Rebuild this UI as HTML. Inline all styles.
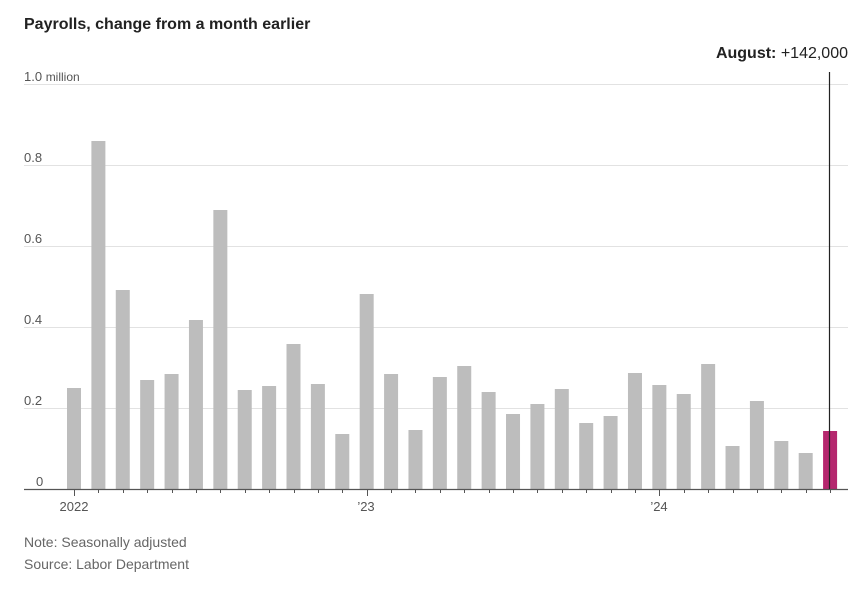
<!DOCTYPE html>
<html><head><meta charset="utf-8"><style>
body{margin:0;background:#fff;}
svg{display:block;font-family:"Liberation Sans",sans-serif;}
</style></head><body>
<svg width="865" height="592" viewBox="0 0 865 592">
<text x="24" y="29" font-size="16" font-weight="bold" fill="#222">Payrolls, change from a month earlier</text>
<g stroke="#e2e2e2" stroke-width="1">
<line x1="24" x2="848" y1="84.5" y2="84.5"/>
<line x1="24" x2="848" y1="165.5" y2="165.5"/>
<line x1="24" x2="848" y1="246.5" y2="246.5"/>
<line x1="24" x2="848" y1="327.5" y2="327.5"/>
<line x1="24" x2="848" y1="408.5" y2="408.5"/>
</g>
<g font-size="13" fill="#555">
<text x="24" y="81">1.0 <tspan font-size="12">million</tspan></text>
<text x="24" y="162">0.8</text>
<text x="24" y="243">0.6</text>
<text x="24" y="324">0.4</text>
<text x="24" y="405">0.2</text>
<text x="36" y="486">0</text>
</g>
<g fill="#bdbdbd" id="bars"></g>
<line x1="24" x2="848" y1="489.5" y2="489.5" stroke="#555" stroke-width="1.2"/>
<g id="ticks" stroke="#555" stroke-width="1"></g>
<line x1="829.5" x2="829.5" y1="72" y2="489" stroke="#222" stroke-width="1.2"/>
<text x="848" y="58" font-size="16" text-anchor="end" fill="#222"><tspan font-weight="bold">August:</tspan> +142,000</text>
<g font-size="13" fill="#555">
<text x="74" y="511" text-anchor="middle">2022</text>
<text x="366" y="511" text-anchor="middle">’23</text>
<text x="659" y="511" text-anchor="middle">’24</text>
</g>
<g font-size="14" fill="#666">
<text x="24" y="547">Note: Seasonally adjusted</text>
<text x="24" y="569">Source: Labor Department</text>
</g>
<script>
var tops=[388,141,290,380,374,320,210,390,386,344,384,434,294,374,430,377,366,392,414,404,389,423,416,373,385,394,364,446,401,441,453,431];
var b=document.getElementById('bars'),t=document.getElementById('ticks'),ns='http://www.w3.org/2000/svg';
for(var i=0;i<32;i++){var cx=74+i*24.39;
var r=document.createElementNS(ns,'rect');r.setAttribute('x',cx-7);r.setAttribute('width',14);r.setAttribute('y',tops[i]);r.setAttribute('height',489-tops[i]);
if(i==31)r.setAttribute('fill','#b5276e');b.appendChild(r);
var l=document.createElementNS(ns,'line');var yr=(i%12==0);l.setAttribute('x1',Math.round(cx)+.5);l.setAttribute('x2',Math.round(cx)+.5);l.setAttribute('y1',489);l.setAttribute('y2',yr?496:493);t.appendChild(l);}
</script>
</svg>
</body></html>
